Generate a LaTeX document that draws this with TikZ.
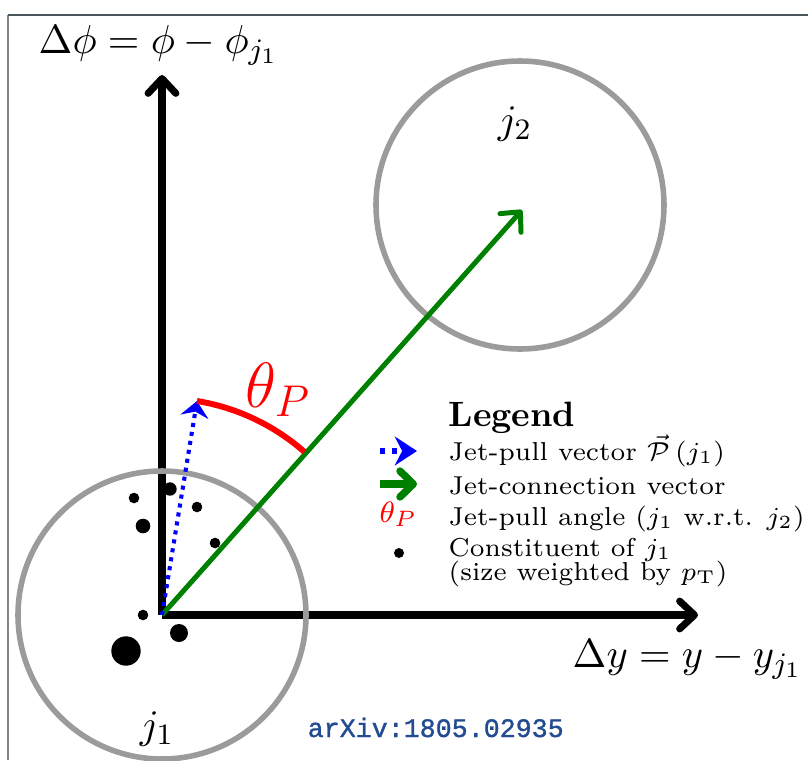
\documentclass[tikz,border=0pt]{standalone}
\usepackage{fontspec}
\newfontfamily\arxivfont[FakeBold=1.2]{Liberation Mono}
\usetikzlibrary{arrows.meta}
\definecolor{ringgray}{RGB}{155,155,155}
\definecolor{jetgreen}{RGB}{0,128,0}
\definecolor{framecol}{RGB}{75,85,92}
\definecolor{arxivblue}{RGB}{35,75,145}
\begin{document}
\begin{tikzpicture}[x=0.27pt,y=-0.27pt,
  axisline/.style={line width=1.9pt, -{Straight Barb[length=4pt,width=7.5pt,line cap=round,line join=round]}},
  ring/.style={draw=ringgray, line width=1.5pt},
  pullvec/.style={blue, line width=1.1pt, dash pattern=on 1.1pt off 1.35pt, -{Stealth[length=4.3pt,width=7.6pt,inset=1.4pt]}},
  legpull/.style={blue, line width=1.4pt, dash pattern=on 1.4pt off 1.9pt, -{Stealth[length=6pt,width=7.8pt,inset=2pt]}},
  connvec/.style={jetgreen, line width=1.35pt, -{Straight Barb[length=4pt,width=7.6pt,line cap=round,line join=round]}},
  legconn/.style={jetgreen, line width=2pt, -{Straight Barb[length=3.6pt,width=7pt,line cap=round,line join=round]}},
  pullangle/.style={red, line width=1.6pt},
  lbl/.style={inner sep=0pt, anchor=base, font=\fontsize{10.95}{13}\selectfont},
  legtext/.style={inner sep=0pt, anchor=base west, font=\fontsize{7}{8.5}\selectfont},
]
\useasboundingbox (0,0) rectangle (808,760);
% frame
\draw[framecol!70, line width=0.4pt] (8,760) -- (8,15);
\draw[framecol, line width=0.75pt] (8,15) -- (808,15);

\coordinate (O) at (162,615);
\coordinate (ytip) at (162,75);
\coordinate (xtip) at (698,615);
\coordinate (C2) at (520,205);
\coordinate (G) at (522,210);
\coordinate (P) at (197,401);

% axes
\draw[axisline] (O) -- (ytip);
\draw[axisline] (O) -- (xtip);

% jets
\draw[ring] (O) circle[radius=144];
\draw[ring] (C2) circle[radius=144];

% constituents
\fill (170,489) circle[radius=6.7];
\fill (134,498) circle[radius=5.3];
\fill (197,507) circle[radius=5.3];
\fill (143,526) circle[radius=7.3];
\fill (215,543) circle[radius=5.3];
\fill (143,615) circle[radius=5.3];
\fill (179,633) circle[radius=9];
\fill (126,651) circle[radius=14.7];

% vectors
\draw[connvec] (O) -- (G);
\draw[pullvec] (O) -- (P);
\draw[pullangle] (P) arc[start angle=-80.7, end angle=-48.6, radius=215];

% labels
\node[lbl, anchor=base west] (ylab) at (38,53) {$\Delta\phi = \phi - \phi_{j_1}$};
\node[lbl, anchor=base west] (xlab) at (572,667) {$\Delta y = y - y_{j_1}$};
\node[lbl] (j1lab) at (157,738) {$j_1$};
\node[lbl] (j2lab) at (515,133) {$j_2$};
\node[inner sep=0pt, anchor=base west, red, font=\fontsize{17}{20}\selectfont] (thlab) at (245,407) {$\theta_P$};

% legend
\node[inner sep=0pt, anchor=base west, font=\fontsize{9.5}{11.5}\selectfont\bfseries] (legtitle) at (448,426) {Legend};
\node[legtext] (e1) at (448,460) {Jet-pull vector $\vec{\mathcal{P}}\,(j_1)$};
\node[legtext] (e2) at (448,494) {Jet-connection vector};
\node[legtext] (e3) at (448,525) {Jet-pull angle ($j_1$ w.r.t. $j_2$)};
\node[legtext] (e4) at (448,556) {Constituent of $j_1$};
\node[legtext] (e5) at (448,580) {(size weighted by $p_{\mathrm{T}}$)};

\coordinate (b1s) at (380,451);
\coordinate (b1e) at (417,451);
\draw[legpull] (b1s) -- (b1e);
\coordinate (g1s) at (380,484);
\coordinate (g1e) at (417,484);
\draw[legconn] (g1s) -- (g1e);
\node[inner sep=0pt, anchor=base west, red, font=\fontsize{8}{10}\selectfont] (thleg) at (379,522) {$\theta_P$};
\fill (399,553) circle[radius=5];

\node[inner sep=0pt, anchor=base west, text=arxivblue, font=\arxivfont\fontsize{7.2}{9}\selectfont] (arx) at (307,737) {arXiv:1805.02935};
\end{tikzpicture}
\end{document}
